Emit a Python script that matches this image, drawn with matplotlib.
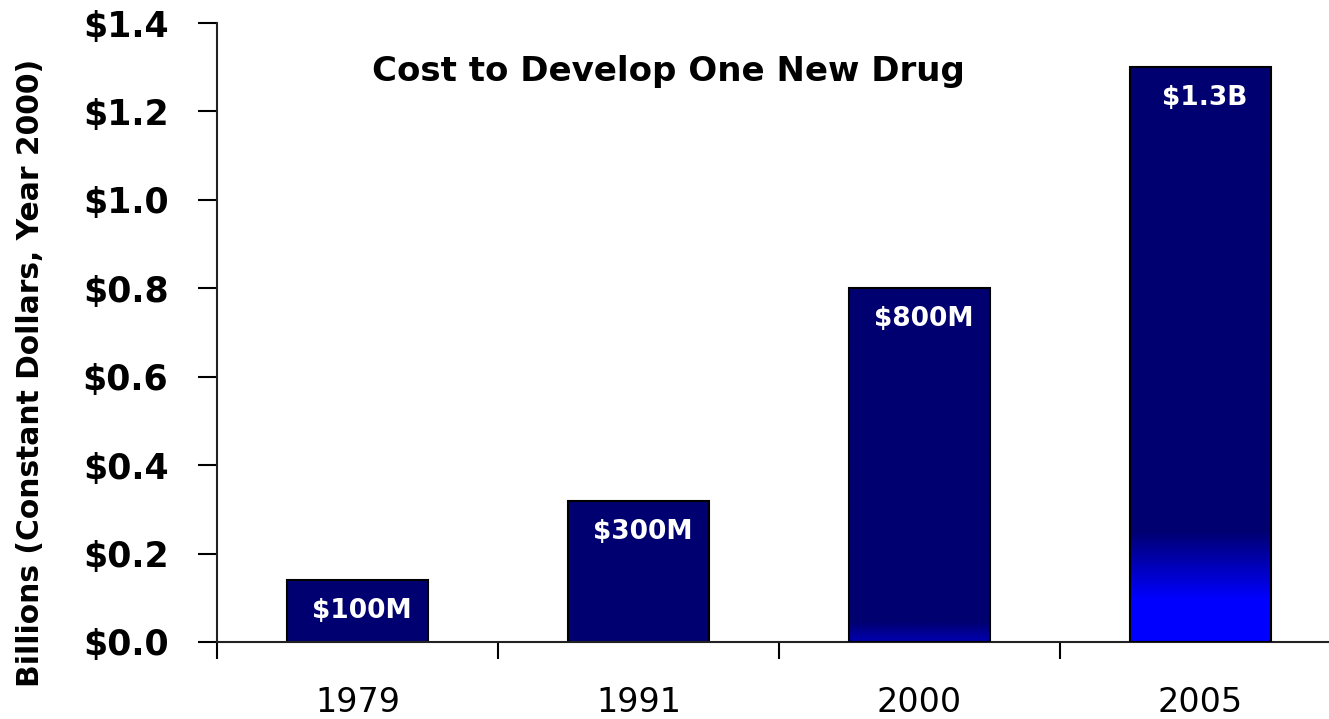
import numpy as np
import matplotlib.pyplot as plt
from matplotlib.colors import to_rgb

# data
years = ['1979', '1991', '2000', '2005']
cost = [0.14, 0.32, 0.80, 1.30]
labels = ['$100M', '$300M', '$800M', '$1.3B']
yticks = [0.0, 0.2, 0.4, 0.6, 0.8, 1.0, 1.2, 1.4]

navy = '#000070'
# gradient per bar: (start of blend, end of blend, bottom colour) in value units
grads = [None, None, (0.045, 0.0, '#0000b0'), (0.25, 0.095, '#0000ff')]

plt.rcParams['font.family'] = 'DejaVu Sans'
fig = plt.figure(figsize=(13.29, 7.19), dpi=100)
ax = fig.add_axes([217/1329, 1-642/719, 1124/1329, 619/719])

x = np.arange(len(years))
bars = ax.bar(x, cost, width=0.5, color=navy, edgecolor='black', linewidth=1.5, zorder=2)

top_c = np.array(to_rgb(navy))
for b, g in zip(bars, grads):
	if g is None:
		continue
	hi, lo, col = g
	h = b.get_height()
	ys = np.linspace(h, 0, 400)
	t = np.clip((hi - ys) / (hi - lo), 0, 1)[:, None]
	img = top_c * (1 - t) + np.array(to_rgb(col)) * t
	img = img[:, None, :]
	x0 = b.get_x()
	im = ax.imshow(img, extent=[x0, x0 + b.get_width(), 0, h], aspect='auto', zorder=2.5, interpolation='bilinear')
	im.set_clip_path(b)
	b.set_facecolor('none')
	b.set_zorder(3)

for xi, v, lab in zip(x, cost, labels):
	ax.annotate(lab, (xi, v), xytext=(4, -31), textcoords='offset pixels',
		ha='center', va='center', color='white', fontsize=19, fontweight='bold', zorder=4)

ax.set_xlim(-0.5, 3.5)
ax.set_ylim(0, 1.4)
ax.set_yticks(yticks)
ax.set_yticklabels(['$%.1f' % v for v in yticks], fontsize=25, fontweight='bold')
ax.set_xticks(x)
ax.set_xticklabels(years, fontsize=24)
ax.set_xticks(np.arange(-0.5, 4, 1), minor=True)
ax.tick_params(axis='x', which='major', length=0, pad=32)
ax.tick_params(axis='x', which='minor', length=12, width=1.5, direction='out')
ax.tick_params(axis='y', length=14, width=1.5, direction='out', pad=21)

for s in ['top', 'right']:
	ax.spines[s].set_visible(False)
for s in ['left', 'bottom']:
	ax.spines[s].set_linewidth(1.5)
	ax.spines[s].set_color('#222222')

ax.set_ylabel('Billions (Constant Dollars, Year 2000)', fontsize=21.4, fontweight='bold')
ax.yaxis.set_label_coords(-172/1124, 0.434)
ax.text(1.108, 1.29, 'Cost to Develop One New Drug', ha='center', va='center',
	fontsize=24.5, fontweight='bold', transform=ax.transData)

fig.savefig('out.png', dpi=100)
